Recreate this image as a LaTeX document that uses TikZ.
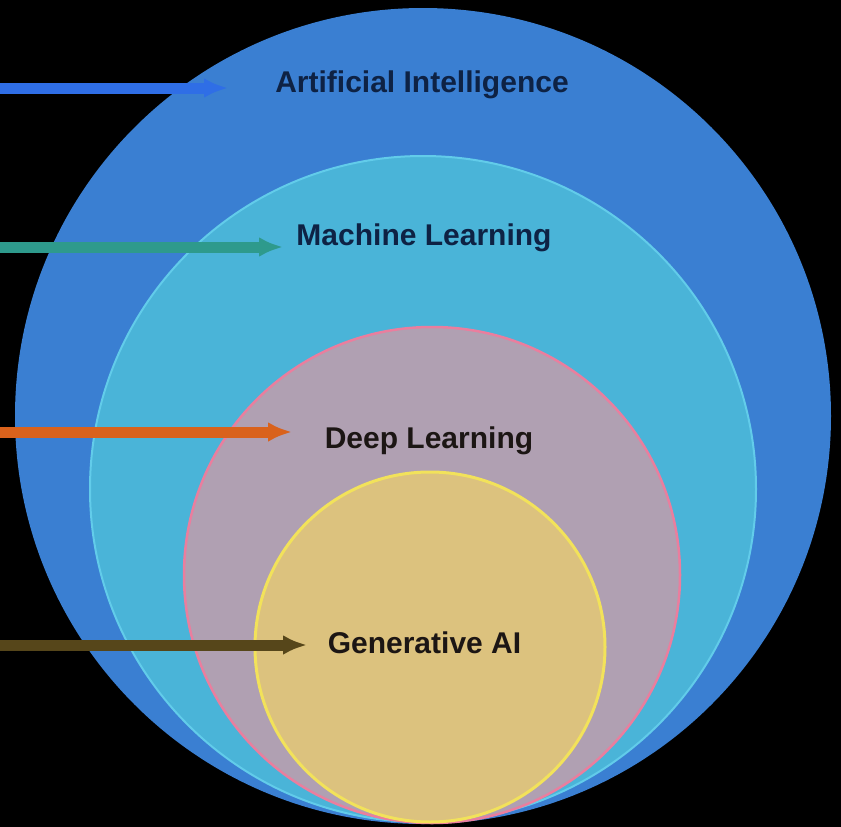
\documentclass[tikz,border=0pt]{standalone}
\usepackage{fontspec}
\setmainfont{Liberation Sans}
\usetikzlibrary{arrows.meta}

\definecolor{aiblue}{HTML}{3A7FD2}
\definecolor{mlcyan}{HTML}{4AB4D8}
\definecolor{mledge}{HTML}{62CCEA}
\definecolor{dlmauve}{HTML}{B0A0B2}
\definecolor{dledge}{HTML}{EA7E9E}
\definecolor{gensand}{HTML}{DCC27E}
\definecolor{genedge}{HTML}{F2E25A}
\definecolor{ailine}{HTML}{2F6EE6}
\definecolor{mlline}{HTML}{2E9A8C}
\definecolor{dlline}{HTML}{D9621C}
\definecolor{genline}{HTML}{56461A}
\definecolor{navytext}{HTML}{0E2244}
\definecolor{darktext}{HTML}{1C1614}

\begin{document}
\begin{tikzpicture}[x=1pt, y=-1pt,
  label/.style={font=\fontsize{30}{36}\selectfont\bfseries, inner sep=0pt, anchor=base},
  pointer/.style={line width=11pt, -{Latex[length=24pt,width=20pt]}}]
% background
\fill[black] (0,0) rectangle (841,827);
\useasboundingbox (0,0) rectangle (841,827);

% nested circles
\fill[aiblue] (423,416) circle[radius=408pt];
\draw[mledge, line width=2pt, fill=mlcyan] (423,489) circle[radius=333pt];
\draw[dledge, line width=2.5pt, fill=dlmauve] (432,575) circle[radius=248pt];
\draw[genedge, line width=3pt, fill=gensand] (430,647) circle[radius=175pt];

% labels
\node[label, navytext] (ai) at (422,92) {Artificial Intelligence};
\node[label, navytext] (ml) at (424,245) {Machine Learning};
\node[label, darktext] (dl) at (429,448) {Deep Learning};
\node[label, darktext] (gen) at (424.5,653) {Generative AI};

% pointers from the left
\coordinate (ai-from) at (0,88);   \coordinate (ai-to) at (228,88);
\coordinate (ml-from) at (0,247);  \coordinate (ml-to) at (283,247);
\coordinate (dl-from) at (0,432);  \coordinate (dl-to) at (292,432);
\coordinate (gen-from) at (0,645); \coordinate (gen-to) at (307,645);

\draw[pointer, ailine] (ai-from) -- (ai-to);
\draw[pointer, mlline] (ml-from) -- (ml-to);
\draw[pointer, dlline] (dl-from) -- (dl-to);
\draw[pointer, genline] (gen-from) -- (gen-to);
\end{tikzpicture}
\end{document}
